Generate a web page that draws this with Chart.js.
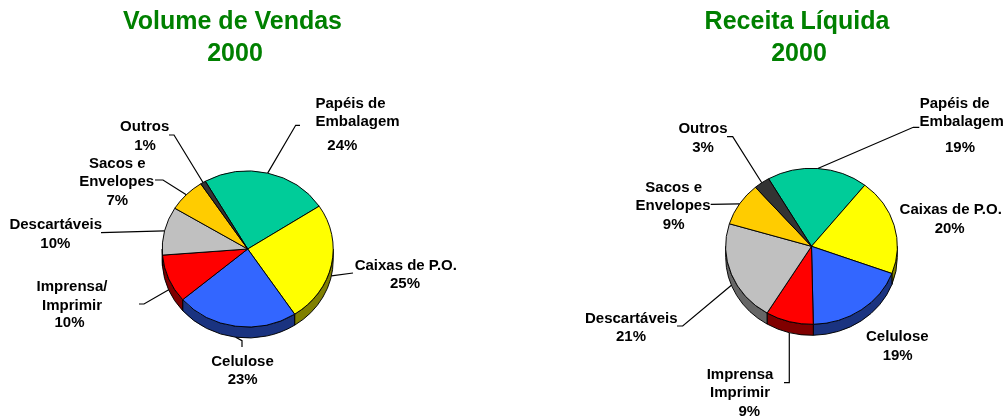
<!DOCTYPE html>
<html><head><meta charset="utf-8">
<style>
html,body{margin:0;padding:0;background:#fff;overflow:hidden;width:1005px;height:419px}
canvas{position:absolute;top:0}
#wrapL,#wrapR{position:absolute;top:0;height:419px}
#wrapL{left:0;width:500px}
#wrapR{left:500px;width:505px}
</style>
<script src="https://cdn.jsdelivr.net/npm/chart.js@4/dist/chart.umd.js"></script>
</head><body>
<div id="wrapL"><canvas id="left" width="500" height="419"></canvas></div>
<div id="wrapR"><canvas id="right" width="505" height="419"></canvas></div>
<script>
const categories = ['Papéis de Embalagem','Caixas de P.O.','Celulose','Imprensa/ Imprimir','Descartáveis','Sacos e Envelopes','Outros'];
const volumeValues = [24,25,23,10,10,7,1];
const revenueValues = [19,20,19,9,21,9,3];
const volumeTitle = ['Volume de Vendas','2000'];
const revenueTitle = ['Receita Líquida','2000'];
const volumeLabelLines = [['Papéis de','Embalagem','24%'],['Caixas de P.O.','25%'],['Celulose','23%'],['Imprensa/','Imprimir','10%'],['Descartáveis','10%'],['Sacos e','Envelopes','7%'],['Outros','1%']];
const revenueLabelLines = [['Papéis de','Embalagem','19%'],['Caixas de P.O.','20%'],['Celulose','19%'],['Imprensa','Imprimir','9%'],['Descartáveis','21%'],['Sacos e','Envelopes','9%'],['Outros','3%']];
const sliceColors = ['#00CC99','#FFFF00','#3366FF','#FF0000','#C0C0C0','#FFCC00','#333333'];
const sideColors = ['#006650','#808000','#1A3380','#800000','#666666','#806600','#1A1A1A'];

// layout only: label line centres and leader-line waypoints, in page pixels
const volumeLayout = {
  originX:0, rotation:-29.7, squash:78/85.5, depth:11, titleX:[232.5,235],
  labels:[[[350.5,102.7],[357.5,120.7],[342.3,145]],[[405.8,265],[405,282.7]],[[242.5,360.7],[242.7,379]],[[72,285.7],[72,305],[69.5,322.3]],[[55.7,223.7],[55.3,242.7]],[[117.3,162.7],[116.7,181],[117.3,200]],[[144.7,125.7],[145,145]]],
  leaders:[[[295.7,125.3],[300,125.3]],[[353,273]],[[242,340.7],[242,347]],[[144,304],[139,304]],[[101,232.7]],[[163,180],[155,180]],[[174,135],[169,135]]]
};
const revenueLayout = {
  originX:500, rotation:-30, squash:78/85.8, depth:11, titleX:[797,799],
  labels:[[[954.7,102.7],[961.7,120.7],[960,147]],[[950.7,209],[949.7,228]],[[897.3,336],[897.7,355]],[[740,374],[740,392],[749.3,411]],[[631.3,318],[631,336]],[[673.7,186.7],[673,205],[673.7,224]],[[703,127.7],[703,147]]],
  leaders:[[[913.3,127.3],[919.3,127.3]],null,null,[[789.3,382.7],[784,382.7]],[[682.7,326],[677,326]],[[710.7,204.3]],[[732.7,136.7],[727,136.7]]]
};

const pie3d = {
  id:'pie3d',
  beforeDatasetsDraw(chart,args,o){
    const ctx=chart.ctx, arcs=chart.getDatasetMeta(0).data, a0=arcs[0];
    const cx=a0.x, cy=a0.y, k=o.layout.squash, d=o.layout.depth;
    ctx.save();
    ctx.translate(cx,cy); ctx.scale(1,k); ctx.translate(-cx,-cy);
    const dd=d/k;
    arcs.forEach((a,i)=>{
      const s=Math.max(a.startAngle,0), e=Math.min(a.endAngle,Math.PI);
      if(e<=s) return;
      ctx.beginPath();
      ctx.arc(cx,cy,a.outerRadius,s,e);
      ctx.arc(cx,cy+dd,a.outerRadius,e,s,true);
      ctx.closePath();
      ctx.fillStyle=sideColors[i]; ctx.fill();
      ctx.lineWidth=1; ctx.strokeStyle='#000'; ctx.stroke();
    });
  },
  afterDatasetsDraw(chart,args,o){
    const ctx=chart.ctx; ctx.restore();
    const L=o.layout, arcs=chart.getDatasetMeta(0).data;
    ctx.save();
    ctx.strokeStyle='#000'; ctx.lineWidth=1.2;
    arcs.forEach((a,i)=>{
      const w=L.leaders[i]; if(!w) return;
      const m=(a.startAngle+a.endAngle)/2;
      const c=Math.cos(m), s=Math.sin(m);
      const sx=a.x+a.outerRadius*c;
      const sy=a.y+a.outerRadius*L.squash*s+(s>0?L.depth:0);
      ctx.beginPath(); ctx.moveTo(sx,sy);
      w.forEach(p=>ctx.lineTo(p[0]-L.originX,p[1]));
      ctx.stroke();
    });
    ctx.fillStyle='#000'; ctx.font='bold 15px "Liberation Sans", Arial, sans-serif';
    ctx.textAlign='center'; ctx.textBaseline='middle';
    o.lines.forEach((ls,i)=>ls.forEach((t,j)=>{
      const p=L.labels[i][j];
      ctx.fillText(t,p[0]-L.originX,p[1]+1);
    }));
    ctx.fillStyle='#008000'; ctx.font='bold 25px "Liberation Sans", Arial, sans-serif';
    o.title.forEach((t,j)=>ctx.fillText(t,L.titleX[j]-L.originX,22+j*32));
    ctx.restore();
  }
};

function makeChart(id,values,title,lines,layout,pad){
  new Chart(document.getElementById(id),{
    type:'pie',
    data:{labels:categories,datasets:[{data:values,backgroundColor:sliceColors,borderColor:'#000',borderWidth:1,radius:pad.radius}]},
    options:{
      responsive:false,animation:false,rotation:layout.rotation,
      layout:{padding:{left:pad.left,right:pad.right,top:79,bottom:pad.bottom}},
      events:[],
      plugins:{
        legend:{display:false},tooltip:{enabled:false},title:{display:false},
        pie3d:{layout:layout,lines:lines,title:title}
      }
    },
    plugins:[pie3d]
  });
}
makeChart('left',volumeValues,volumeTitle,volumeLabelLines,volumeLayout,{left:0,right:4.6,bottom:0,radius:85.5});
makeChart('right',revenueValues,revenueTitle,revenueLabelLines,revenueLayout,{left:118,right:0,bottom:5.4,radius:85.8});
</script>
</body></html>
